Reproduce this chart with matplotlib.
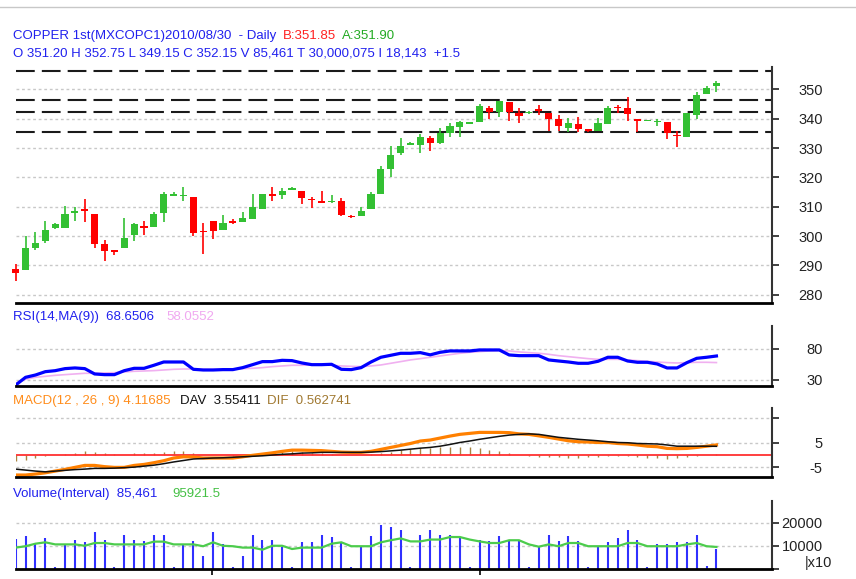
import numpy as np
import matplotlib
matplotlib.use('Agg')
import matplotlib.pyplot as plt
from matplotlib.lines import Line2D

plt.rcParams['font.family'] = ['Liberation Sans', 'DejaVu Sans']

# daily candles (72 sessions up to 2010/08/30)
opens = [288.9, 288.4, 296.1, 298.2, 302.6, 302.6, 308.0, 309.3, 307.6, 297.3,
         295.1, 295.8, 300.5, 303.5, 303.2, 307.8, 313.6, 313.6, 313.4, 301.8,
         305.0, 302.0, 305.1, 304.7, 305.7, 309.2, 314.5, 314.1, 315.8, 315.5,
         312.5, 311.9, 311.5, 311.8, 306.9, 306.8, 309.3, 314.5, 323.0, 328.2,
         330.9, 330.9, 333.3, 331.8, 335.2, 337.3, 338.3, 338.8, 343.8, 342.2,
         345.8, 342.0, 341.8, 343.2, 342.0, 340.0, 336.9, 338.1, 336.5, 335.9,
         338.2, 344.1, 343.8, 340.0, 339.3, 338.9, 339.0, 334.4, 333.9, 341.3,
         348.3, 351.20]
highs = [290.5, 300.1, 301.4, 305.0, 304.3, 310.3, 310.0, 312.5, 307.6, 298.6,
         295.1, 306.1, 304.3, 305.3, 308.1, 315.1, 314.9, 316.7, 313.4, 304.4,
         305.0, 307.2, 305.7, 308.3, 314.5, 314.5, 316.6, 316.3, 316.8, 315.5,
         313.2, 315.5, 313.9, 313.1, 307.2, 310.0, 314.9, 323.9, 330.7, 333.3,
         332.2, 334.8, 334.1, 336.9, 338.6, 339.3, 339.0, 345.0, 344.4, 346.1,
         345.8, 343.8, 342.6, 344.8, 342.0, 341.3, 340.1, 340.7, 336.5, 340.1,
         344.3, 344.8, 347.5, 340.0, 339.7, 340.0, 339.0, 335.9, 342.0, 349.2,
         351.1, 352.75]
lows = [284.8, 288.4, 295.2, 297.7, 302.4, 302.6, 305.1, 304.7, 295.8, 291.5,
        293.5, 295.8, 298.4, 300.3, 303.2, 304.7, 313.6, 312.0, 299.9, 293.8,
        298.9, 302.0, 304.1, 304.7, 305.7, 309.2, 312.0, 312.5, 315.6, 310.9,
        309.4, 311.1, 311.1, 306.7, 306.0, 306.8, 309.3, 314.5, 320.0, 327.5,
        330.9, 328.2, 329.0, 331.4, 333.9, 333.9, 338.2, 338.8, 339.8, 340.5,
        339.2, 338.6, 341.6, 341.3, 335.9, 335.9, 335.3, 335.3, 335.5, 335.9,
        338.2, 341.8, 339.2, 335.5, 339.3, 337.5, 333.0, 330.2, 333.9, 339.8,
        348.3, 349.15]
closes = [287.5, 296.1, 297.7, 301.9, 304.1, 307.6, 308.6, 308.4, 297.3, 294.8,
          294.5, 299.2, 304.1, 302.7, 307.6, 314.4, 314.4, 314.0, 300.9, 301.4,
          301.7, 304.5, 304.5, 306.3, 310.0, 314.5, 313.6, 315.5, 316.5, 313.1,
          312.2, 311.4, 311.9, 307.2, 306.4, 308.6, 314.5, 322.8, 327.5, 330.7,
          331.7, 333.8, 331.8, 335.2, 337.4, 338.8, 338.8, 344.3, 342.4, 346.1,
          342.4, 340.9, 342.4, 342.7, 339.8, 337.6, 338.6, 336.5, 335.7, 338.6,
          343.8, 343.5, 341.6, 339.3, 339.7, 339.2, 335.2, 334.0, 342.0, 348.1,
          350.6, 352.15]

# support / resistance levels
levels = [356.3, 346.5, 342.3, 335.5]

rsi = [21.9, 34.3, 38.0, 43.4, 45.0, 48.3, 49.4, 48.3, 39.7, 38.6,
       38.6, 45.0, 48.8, 48.8, 53.7, 59.0, 59.0, 59.0, 47.2, 46.1,
       46.1, 46.7, 46.7, 49.9, 54.7, 59.6, 59.6, 61.7, 61.2, 57.4,
       54.7, 54.7, 55.3, 47.2, 46.7, 49.9, 59.0, 66.6, 69.8, 73.0,
       73.0, 74.1, 70.5, 74.6, 76.8, 76.8, 76.8, 78.4, 78.4, 78.4,
       70.3, 69.2, 69.2, 69.2, 62.3, 60.6, 59.0, 56.9, 56.9, 60.1,
       66.6, 66.6, 60.6, 58.5, 58.5, 55.8, 49.4, 49.4, 57.9, 64.9,
       66.6, 68.65]
rsi_ma = [24.6, 31.1, 34.3, 35.9, 37.5, 38.6, 39.7, 40.8, 40.8, 41.3,
          41.8, 42.9, 44.0, 44.5, 45.1, 46.1, 47.2, 47.7, 47.7, 47.2,
          47.2, 47.2, 47.7, 48.3, 48.8, 49.9, 51.5, 52.6, 53.7, 53.7,
          54.2, 54.2, 53.7, 52.6, 52.0, 51.5, 52.6, 54.2, 56.9, 59.6,
          62.3, 64.4, 66.6, 68.7, 70.9, 73.0, 74.6, 75.7, 76.8, 77.3,
          76.8, 75.2, 74.1, 73.0, 71.4, 69.2, 67.6, 66.0, 64.4, 63.3,
          63.3, 63.3, 62.3, 61.2, 60.1, 59.0, 58.0, 57.4, 58.0, 58.5,
          58.5, 58.06]

macd = [-8.1, -8.1, -7.7, -7.2, -6.5, -5.8, -5.0, -4.2, -4.2, -4.7,
        -5.0, -5.0, -4.2, -3.8, -3.1, -2.3, -1.2, -0.7, -0.8, -1.2,
        -1.2, -1.2, -1.2, -0.7, -0.1, 0.4, 0.9, 1.5, 2.0, 2.0,
        1.9, 1.8, 1.5, 1.2, 1.1, 1.1, 1.5, 2.3, 3.1, 3.9,
        4.7, 5.7, 6.1, 6.9, 7.7, 8.4, 8.8, 9.2, 9.2, 9.2,
        9.1, 8.6, 8.4, 7.8, 7.2, 6.5, 5.8, 5.4, 5.3, 5.1,
        5.1, 4.7, 4.5, 4.1, 3.6, 3.4, 2.7, 2.6, 2.7, 3.1,
        3.6, 4.12]
dav = [-5.7, -6.1, -6.5, -6.8, -6.5, -6.2, -5.9, -5.7, -5.4, -5.4,
       -5.3, -5.1, -4.9, -4.5, -4.1, -3.5, -2.8, -2.2, -1.6, -1.4,
       -1.2, -1.1, -0.9, -0.7, -0.5, -0.3, 0.0, 0.3, 0.5, 0.8,
       0.9, 1.1, 1.1, 1.1, 1.1, 1.1, 1.2, 1.4, 1.7, 2.0,
       2.4, 2.8, 3.1, 3.6, 4.3, 5.1, 5.7, 6.4, 7.0, 7.6,
       8.1, 8.4, 8.6, 8.4, 7.8, 7.2, 6.8, 6.4, 6.1, 5.8,
       5.4, 5.1, 5.0, 4.7, 4.6, 4.5, 4.1, 3.6, 3.6, 3.6,
       3.6, 3.55]

# volume in units of 10 contracts
volume = [12900, 14200, 11300, 13500, 700, 10600, 12800, 11600, 16100, 12800,
          700, 14900, 12800, 12200, 14900, 14600, 700, 11000, 12000, 5500,
          16100, 11000, 700, 5500, 14900, 12800, 12800, 9600, 700, 11600,
          11600, 14900, 13800, 11600, 700, 9600, 14200, 19000, 18300, 16800,
          700, 14900, 16800, 14900, 14900, 13900, 700, 12800, 12200, 14200,
          12800, 12800, 700, 9600, 14900, 12200, 14200, 12200, 700, 9600,
          11600, 13500, 16800, 12800, 700, 11000, 11000, 11600, 11600, 14900,
          1400, 8546]
vol_ma = [9300, 9900, 11000, 11600, 10700, 10700, 10700, 10100, 11300, 11300,
          10700, 10700, 10700, 10700, 11900, 11900, 10700, 10700, 10700, 9900,
          11600, 10100, 9900, 9300, 9300, 8400, 10100, 10100, 8700, 9300,
          9300, 9300, 11000, 11600, 9900, 9900, 9900, 11600, 12500, 13300,
          12000, 12000, 12800, 12800, 13900, 13900, 12800, 12000, 11300, 11300,
          12500, 12500, 10700, 9700, 10700, 9900, 11300, 11300, 9900, 9900,
          9900, 9900, 11300, 11300, 9900, 9900, 9900, 9900, 10700, 11300,
          9900, 9592]

month_starts = [19.9, 47]

W, H = 856, 579
fig = plt.figure(figsize=(W / 100, H / 100), dpi=100)
x = np.arange(len(closes))
tick_font = ['Liberation Sans Narrow', 'Liberation Sans', 'DejaVu Sans']


def box(top, bottom, left=15.7, right=772):
    return [left / W, 1 - bottom / H, (right - left) / W, (bottom - top) / H]


def style(ax, ylim, ticks, labels):
    ax.set_xlim(0, 76.63)
    ax.set_ylim(*ylim)
    ax.spines['top'].set_visible(False)
    ax.spines['left'].set_visible(False)
    ax.spines['right'].set_color('#333333')
    ax.spines['right'].set_linewidth(1.5)
    ax.spines['bottom'].set_color('black')
    ax.spines['bottom'].set_linewidth(2)
    ax.yaxis.tick_right()
    ax.set_yticks(ticks, labels)
    ax.tick_params(axis='y', direction='out', length=5, width=1.3, color='#333333',
                   labelsize=10.5, labelcolor='#222222', pad=31.5)
    ax.set_xticks([])
    for t in ax.get_yticklabels():
        t.set_horizontalalignment('right')
        t.set_fontfamily(tick_font)
    for t in ticks:
        ax.axhline(t, color='#c8c8c8', lw=1, linestyle=(0, (2, 2)), zorder=0)


def txt(px, py, s, c, **kw):
    fig.text(px / W, 1 - py / H, s, color=c, fontsize=9.5, va='baseline', **kw)


# price panel
ax_p = fig.add_axes(box(67, 303))
style(ax_p, (277.2, 357.6), list(range(280, 351, 10)), [str(v) for v in range(280, 351, 10)])
for lv in levels:
    ax_p.axhline(lv, color='#1a1a1a', lw=1.5, dashes=(9, 3.4), zorder=1)
o = np.array(opens)
c = np.array(closes)
cols = ['#33c033' if cc >= oo else '#ff0000' for oo, cc in zip(o, c)]
ax_p.vlines(x, lows, highs, colors=cols, lw=1.2, zorder=2, clip_on=False)
ax_p.bar(x, np.maximum(np.abs(c - o), 0.35), bottom=np.minimum(o, c), width=0.72,
         color=cols, lw=0, zorder=3, clip_on=False)

# RSI panel
ax_r = fig.add_axes(box(326, 386))
style(ax_r, (20.3, 117), [30, 80], ['30', '80'])
ax_r.plot(x, rsi_ma, color='#f0b0f0', lw=1.2)
ax_r.plot(x, rsi, color='#0000ff', lw=2.3)

# MACD panel
ax_m = fig.add_axes(box(408, 477))
style(ax_m, (-8.9, 19.1), [-5, 5, 15], ['-5', '5', ''])
dif = np.array(macd) - np.array(dav)
ax_m.vlines(x, 0, dif, colors='#a88440', lw=1.0)
ax_m.axhline(0, color='#ff3030', lw=1.3)
ax_m.plot(x, macd, color='#ff8000', lw=2.3)
ax_m.plot(x, dav, color='#111111', lw=1.1)

# volume panel
ax_v = fig.add_axes(box(501, 569))
style(ax_v, (0, 29565), [0, 10000, 20000], ['', '10000', '20000'])
ax_v.vlines(x, 0, volume, colors='#3030ff', lw=1.5)
ax_v.plot(x, vol_ma, color='#4ccc4c', lw=1.6)
ax_v.set_xticks(month_starts)
ax_v.tick_params(axis='x', direction='out', length=4, width=1.2, color='black', labelbottom=False)

# headers
fig.add_artist(Line2D([0, 1], [1 - 7 / H] * 2, color='#c8c8c8', lw=1))
txt(13, 39, 'COPPER 1st(MXCOPC1)2010/08/30  - Daily', '#2020ee')
txt(283, 39, 'B:351.85', '#ff2020')
txt(342, 39, 'A:351.90', '#22aa22')
txt(13, 57, 'O 351.20 H 352.75 L 349.15 C 352.15 V 85,461 T 30,000,075 I 18,143  +1.5', '#2020ee')
txt(13, 320, 'RSI(14,MA(9))  68.6506', '#2020ee')
txt(166, 320, '58.0552', '#f0a8f0')
txt(13, 404, 'MACD(12 , 26 , 9) 4.11685', '#ff8c1a')
txt(180, 404, 'DAV  3.55411', '#111111')
txt(267, 404, 'DIF  0.562741', '#a07830')
txt(13, 497, 'Volume(Interval)  85,461', '#2020ee')
txt(172, 497, '95921.5', '#44c044')
fig.text(805 / W, 1 - 556 / H, '|x10', color='#222222', fontsize=10.5,
         fontfamily=tick_font, va='top')

fig.savefig('out.png', dpi=100)
